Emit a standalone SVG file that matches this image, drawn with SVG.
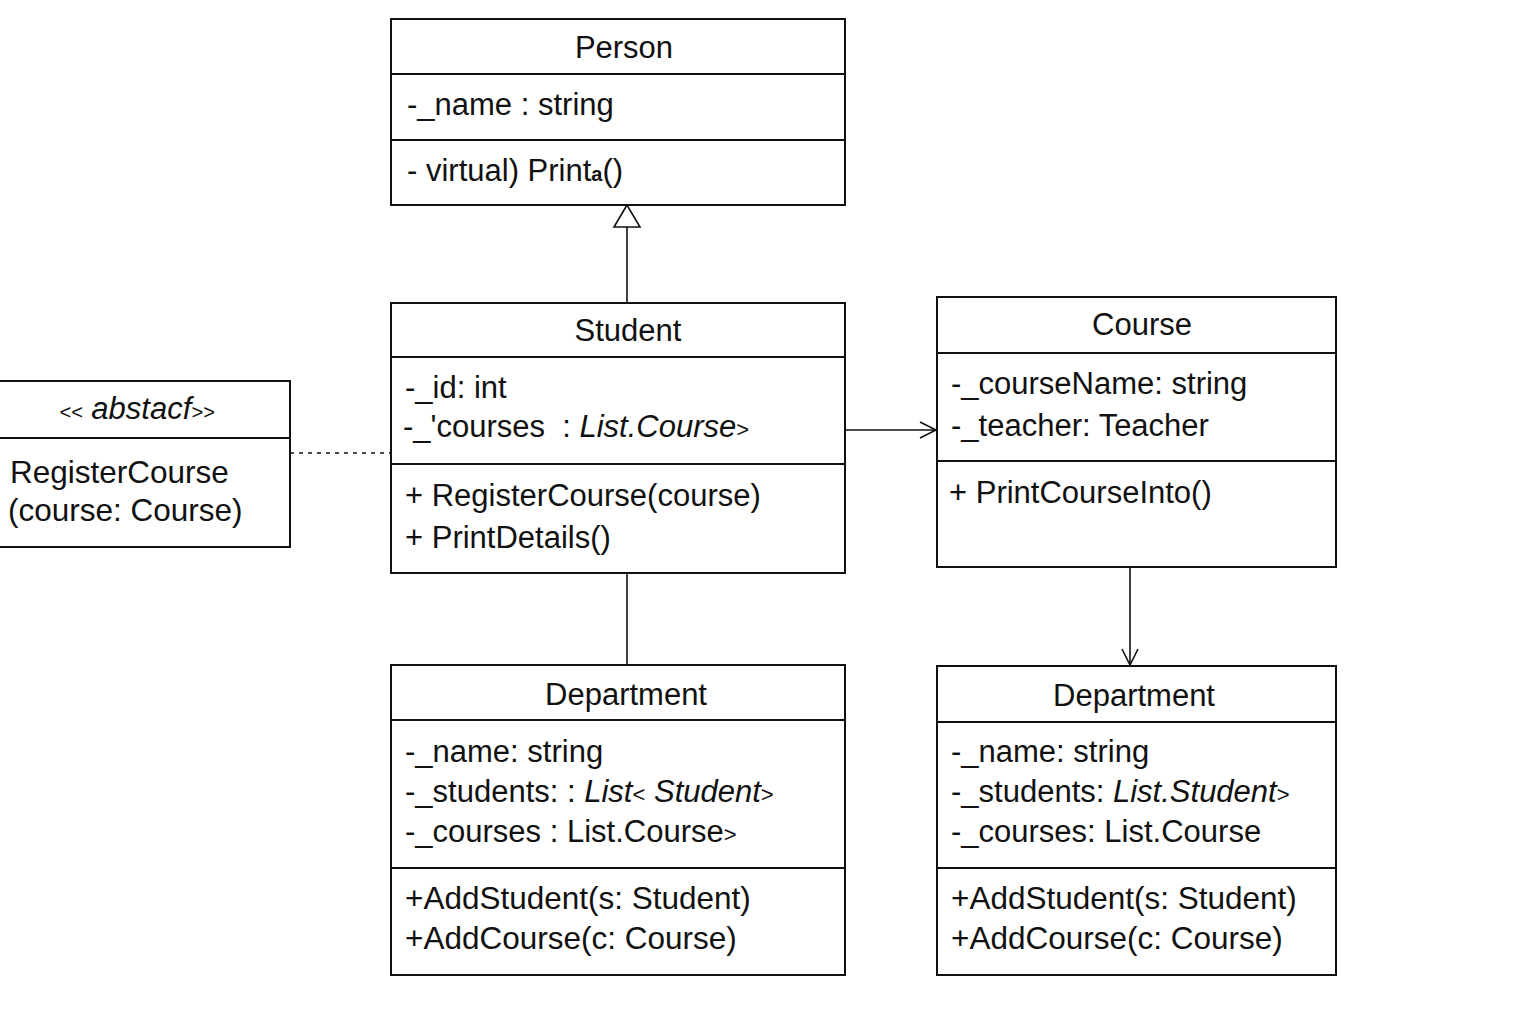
<svg xmlns="http://www.w3.org/2000/svg" width="1536" height="1024" viewBox="0 0 1536 1024">
<defs>
<style>
.box{fill:#fff;stroke:#111;stroke-width:2}
.div{stroke:#111;stroke-width:2}
.t{font-family:"Liberation Sans",Arial,sans-serif;font-size:31px;fill:#111}
.title{text-anchor:middle}
.i{font-style:italic}
.m{font-size:31.5px}
.conn{stroke:#111;stroke-width:1.6;fill:none}
</style>
<marker id="open" viewBox="0 0 20 20" refX="18" refY="10" markerWidth="20" markerHeight="20" markerUnits="userSpaceOnUse" orient="auto">
<path d="M2,2 L18,10 L2,18" fill="none" stroke="#111" stroke-width="1.6"/>
</marker>
</defs>
<rect width="1536" height="1024" fill="#fff"/>

<g id="connectors">
<line class="conn" x1="627" y1="227" x2="627" y2="302"/>
<polygon points="627,205 614,227 640,227" fill="#fff" stroke="#111" stroke-width="1.6"/>
<line class="conn" x1="290" y1="453" x2="391" y2="453" stroke-dasharray="4,5"/>
<line class="conn" x1="845" y1="430" x2="936" y2="430" marker-end="url(#open)"/>
<line class="conn" x1="1130" y1="567" x2="1130" y2="665" marker-end="url(#open)"/>
<line class="conn" x1="627" y1="573" x2="627" y2="665"/>
</g>

<g id="person">
<rect class="box" x="391" y="19" width="454" height="186"/>
<line class="div" x1="391" y1="74" x2="845" y2="74"/>
<line class="div" x1="391" y1="140" x2="845" y2="140"/>
<text class="t title" x="624" y="58">Person</text>
<text class="t" x="407" y="115">-_name : string</text>
<text class="t" x="407" y="181">- virtual) Print<tspan font-size="20" font-weight="bold">a</tspan>()</text>
</g>

<g id="abstract">
<rect class="box" x="-2" y="381" width="292" height="166"/>
<line class="div" x1="-2" y1="438" x2="290" y2="438"/>
<text class="t title i" x="137" y="419" font-size="29"><tspan font-size="20">&lt;&lt;</tspan> abstacf<tspan font-size="20">&gt;&gt;</tspan></text>
<text class="t m" x="10" y="483">RegisterCourse</text>
<text class="t m" x="8" y="521">(course: Course)</text>
</g>

<g id="student">
<rect class="box" x="391" y="303" width="454" height="270"/>
<line class="div" x1="391" y1="357" x2="845" y2="357"/>
<line class="div" x1="391" y1="464" x2="845" y2="464"/>
<text class="t title" x="628" y="341">Student</text>
<text class="t" x="405" y="398">-_id: int</text>
<text class="t" x="403" y="437">-_'courses&#160; : <tspan class="i">List.Course</tspan><tspan font-size="22">&gt;</tspan></text>
<text class="t" x="405" y="506">+ RegisterCourse(course)</text>
<text class="t" x="405" y="548">+ PrintDetails()</text>
</g>

<g id="course">
<rect class="box" x="937" y="297" width="399" height="270"/>
<line class="div" x1="937" y1="353" x2="1336" y2="353"/>
<line class="div" x1="937" y1="461" x2="1336" y2="461"/>
<text class="t title" x="1142" y="335">Course</text>
<text class="t" x="951" y="394">-_courseName: string</text>
<text class="t" x="951" y="436">-_teacher: Teacher</text>
<text class="t" x="949" y="503">+ PrintCourseInto()</text>
</g>

<g id="department1">
<rect class="box" x="391" y="665" width="454" height="310"/>
<line class="div" x1="391" y1="720" x2="845" y2="720"/>
<line class="div" x1="391" y1="868" x2="845" y2="868"/>
<text class="t title" x="626" y="705">Department</text>
<text class="t" x="405" y="762">-_name: string</text>
<text class="t" x="405" y="802">-_students: : <tspan class="i">List</tspan><tspan font-size="22">&lt;</tspan> <tspan class="i">Student</tspan><tspan font-size="22">&gt;</tspan></text>
<text class="t" x="405" y="842">-_courses : List.Course<tspan font-size="22">&gt;</tspan></text>
<text class="t m" x="405" y="909">+AddStudent(s: Student)</text>
<text class="t m" x="405" y="949">+AddCourse(c: Course)</text>
</g>

<g id="department2">
<rect class="box" x="937" y="666" width="399" height="309"/>
<line class="div" x1="937" y1="722" x2="1336" y2="722"/>
<line class="div" x1="937" y1="868" x2="1336" y2="868"/>
<text class="t title" x="1134" y="706">Department</text>
<text class="t" x="951" y="762">-_name: string</text>
<text class="t" x="951" y="802">-_students: <tspan class="i">List.Student</tspan><tspan font-size="22">&gt;</tspan></text>
<text class="t" x="951" y="842">-_courses: List.Course</text>
<text class="t m" x="951" y="909">+AddStudent(s: Student)</text>
<text class="t m" x="951" y="949">+AddCourse(c: Course)</text>
</g>
</svg>
